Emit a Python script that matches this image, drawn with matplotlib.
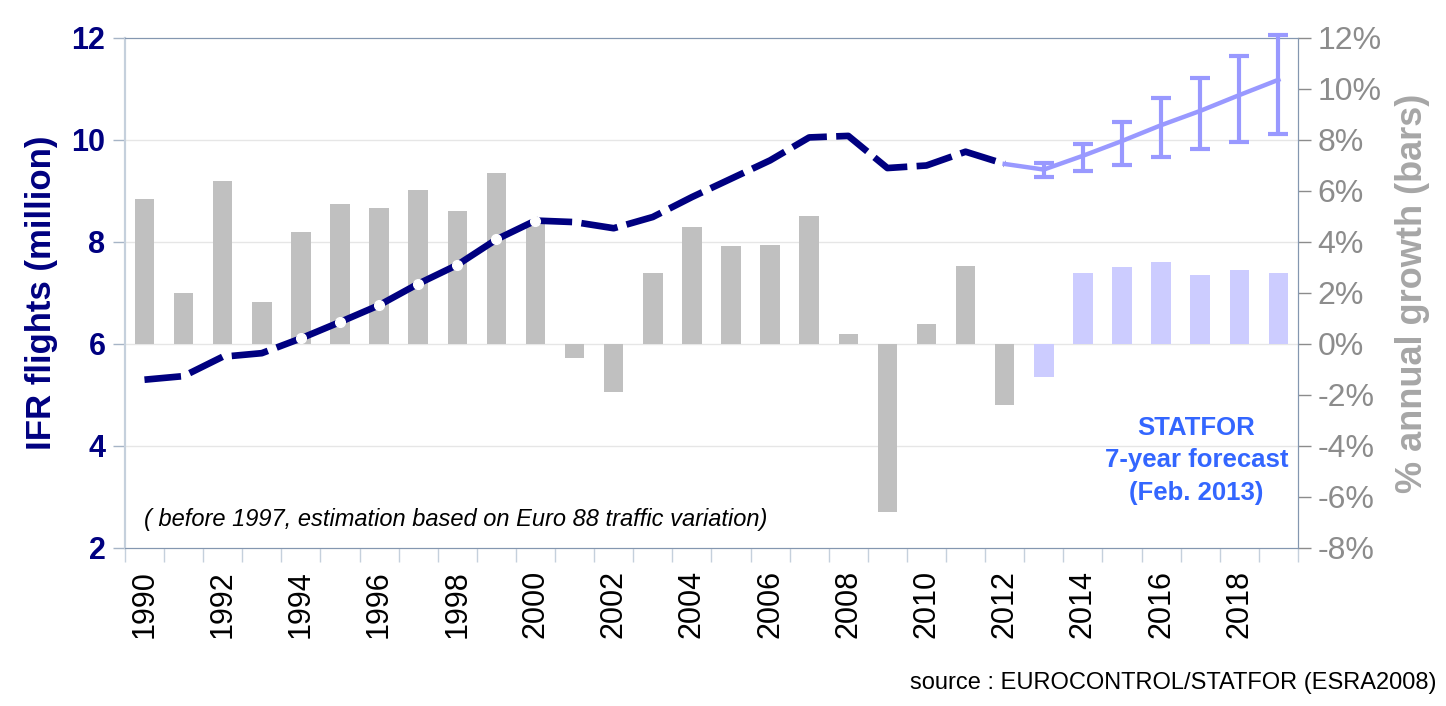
import numpy as np
import matplotlib.pyplot as plt

plt.rcParams['font.family'] = ['Liberation Sans', 'DejaVu Sans']

years = list(range(1990, 2020))

# annual growth in % (bars)
growth = [5.7, 2.0, 6.4, 1.65, 4.4, 5.5, 5.35, 6.05, 5.2, 6.7,
          4.75, -0.55, -1.9, 2.8, 4.6, 3.85, 3.9, 5.0, 0.4, -6.6,
          0.8, 3.05, -2.4, -1.3, 2.8, 3.0, 3.2, 2.7, 2.9, 2.8]

# IFR flights (million), history 1990-2012
hist_years = list(range(1990, 2013))
flights = [5.3, 5.37, 5.75, 5.82, 6.11, 6.43, 6.76, 7.18, 7.55, 8.05,
           8.42, 8.39, 8.27, 8.49, 8.88, 9.24, 9.6, 10.05, 10.08, 9.45,
           9.5, 9.77, 9.53]

# forecast 2012-2019 with high/low range
fc_years = list(range(2012, 2020))
fc_base = [9.53, 9.42, 9.69, 9.98, 10.29, 10.57, 10.88, 11.18]
fc_high = [9.53, 9.55, 9.92, 10.35, 10.82, 11.22, 11.65, 12.06]
fc_low = [9.53, 9.27, 9.39, 9.51, 9.67, 9.82, 9.96, 10.12]

navy = '#000080'
fc_line = '#9999FF'

fig = plt.figure(figsize=(14.46, 7.06), dpi=100)
ax = fig.add_axes([0.0864, 0.2238, 0.8112, 0.7224])
ax2 = ax.twinx()

def xi(y):
    return y - 1990

# bars on right axis
bar_x = [xi(y) for y in years]
bar_col = ['#C0C0C0' if y <= 2012 else '#CCCCFF' for y in years]
ax2.bar(bar_x, growth, width=0.5, color=bar_col, zorder=2)
ax2.set_ylim(-8, 12)
ax2.set_yticks(np.arange(-8, 13, 2))
ax2.set_yticklabels([f'{v}%' for v in range(-8, 13, 2)])
ax2.tick_params(axis='y', colors='#8C8C8C', labelcolor='#8C8C8C',
                labelsize=23, length=9, width=1, pad=5)
ax2.set_ylabel('% annual growth (bars)', fontsize=26, fontweight='bold',
               color='#A6A6A6', labelpad=10)

# the flights line is drawn on top of the bars
ax.set_zorder(ax2.get_zorder() + 1)
ax.patch.set_visible(False)

hx = [xi(y) for y in hist_years]
i94 = hist_years.index(1994)
i00 = hist_years.index(2000)
lw = 4.8
ax.plot(hx[:i94 + 1], flights[:i94 + 1], color=navy, lw=lw,
        dashes=(5.5, 1.4), solid_capstyle='butt', zorder=4)
ax.plot(hx[i94:i00 + 1], flights[i94:i00 + 1], color=navy, lw=lw, zorder=4)
ax.plot(hx[i00:], flights[i00:], color=navy, lw=lw,
        dashes=(5.5, 1.4), solid_capstyle='butt', zorder=4)
ax.plot(hx[i94:i00 + 1], flights[i94:i00 + 1], ls='none', marker='o',
        ms=7, mfc='white', mec='white', zorder=5)

fx = [xi(y) for y in fc_years]
ax.plot(fx, fc_base, color=fc_line, lw=3.2, zorder=4)
err_lo = [b - l for b, l in zip(fc_base[1:], fc_low[1:])]
err_hi = [h - b for b, h in zip(fc_base[1:], fc_high[1:])]
eb = ax.errorbar(fx[1:], fc_base[1:], yerr=[err_lo, err_hi], fmt='none',
                 ecolor=fc_line, elinewidth=3, capsize=7, capthick=3,
                 zorder=4)
for art in eb.lines[1]:
    art.set_clip_on(False)
for art in eb.lines[2]:
    art.set_clip_on(False)

ax.set_ylim(2, 12)
ax.set_yticks(range(2, 13, 2))
ax.tick_params(axis='y', colors='#A6B4C6', labelcolor=navy, labelsize=22,
               length=9, width=1, pad=5)
for t in ax.get_yticklabels():
    t.set_fontweight('bold')
ax.set_ylabel('IFR flights (million)', fontsize=25, fontweight='bold',
              color=navy, labelpad=10)

# horizontal grid drawn on the bar axes so it stays under the bars
for v in [4, 6, 8, 10]:
    ax2.axhline((v - 2) * 2 - 8, color='#E6E6E6', lw=1, zorder=1)

ax.set_xlim(-0.5, len(years) - 0.5)
even = [y for y in years if y % 2 == 0]
ax.set_xticks([xi(y) for y in even])
ax.set_xticklabels([str(y) for y in even], rotation=90, fontsize=22)
ax.set_xticks(np.arange(-0.5, len(years), 1), minor=True)
ax.tick_params(axis='x', which='major', length=0, pad=16)
ax.tick_params(axis='x', which='minor', length=10, width=1, color='#C5D0DC')

for a in (ax, ax2):
    a.spines['top'].set_color('#8497B0')
    a.spines['bottom'].set_color('#8497B0')
    a.spines['left'].set_color('#C5D0DC')
    a.spines['right'].set_color('#8497B0')
    a.spines['left'].set_linewidth(1.5)

ax.text(0.0, 2.55, '( before 1997, estimation based on Euro 88 traffic variation)',
        fontsize=17, style='italic', color='black', va='center', ha='left')
ax.text(xi(2016.9), 3.72, 'STATFOR\n7-year forecast\n(Feb. 2013)',
        fontsize=18.5, fontweight='bold', color='#3366FF', ha='center',
        va='center', linespacing=1.45)

fig.text(0.9935, 0.033, 'source : EUROCONTROL/STATFOR (ESRA2008)', fontsize=17,
         ha='right', va='center', color='black')

fig.savefig('out.png', dpi=100)
